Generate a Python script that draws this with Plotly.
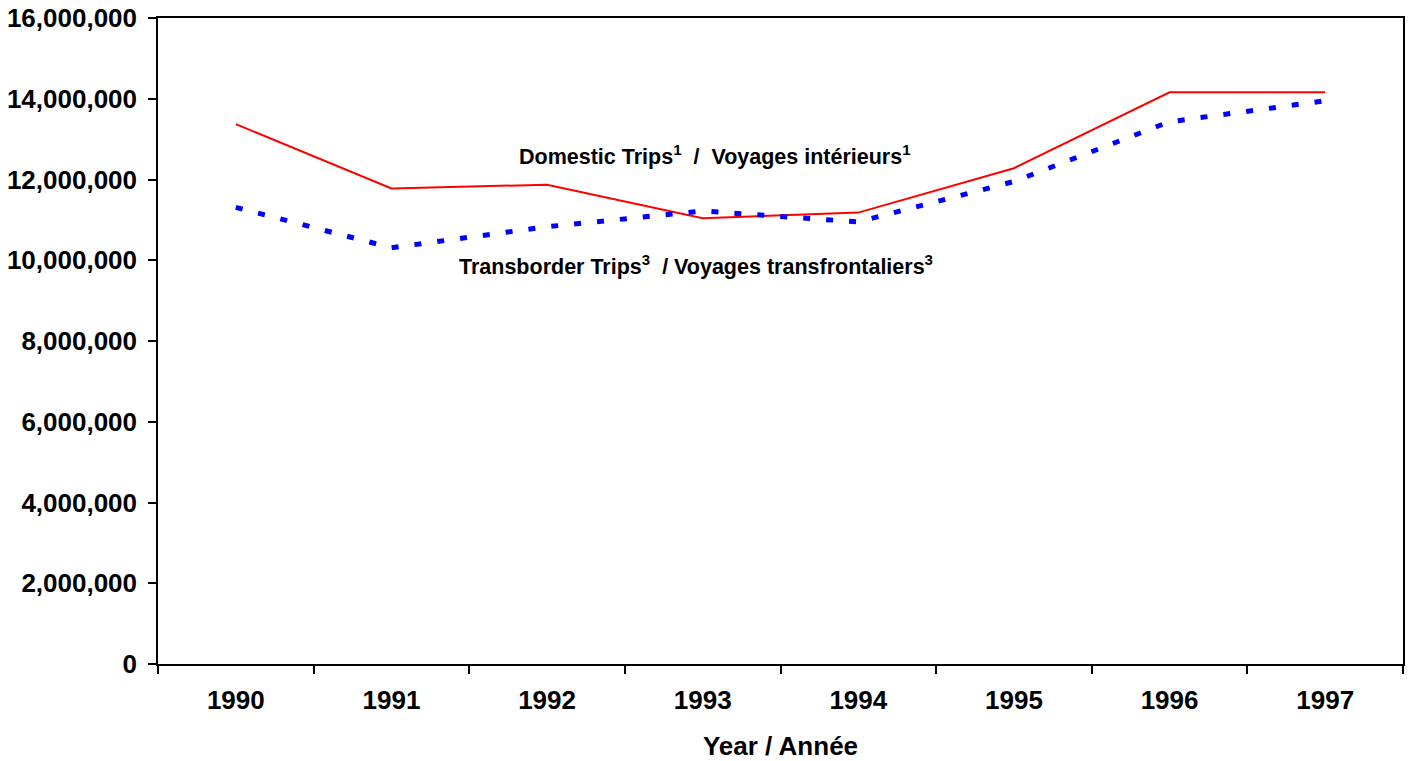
import plotly.graph_objects as go

years = ["1990", "1991", "1992", "1993", "1994", "1995", "1996", "1997"]
domestic = [13370000, 11780000, 11870000, 11040000, 11180000, 12280000, 14160000, 14160000]
transborder = [11310000, 10310000, 10830000, 11220000, 10950000, 11950000, 13430000, 13950000]

FONT = "Arial, Liberation Sans, sans-serif"

fig = go.Figure()
fig.add_trace(go.Scatter(x=years, y=domestic, mode="lines",
                         line=dict(color="#ff0000", width=2), name="Domestic"))
fig.add_trace(go.Scatter(x=years, y=transborder, mode="lines",
                         line=dict(color="#0000ff", width=5, dash="7px,16px"), name="Transborder"))

fig.update_layout(
    width=1409, height=761,
    margin=dict(l=158, r=6, t=18, b=97),
    paper_bgcolor="white", plot_bgcolor="white",
    showlegend=False,
    font=dict(family=FONT, color="black"),
)
fig.update_xaxes(
    type="category", range=[-0.5, 7.5], automargin=False,
    tickson="boundaries", ticks="outside", ticklen=8, tickwidth=1.5, tickcolor="black",
    showline=True, linecolor="black", linewidth=1.5, mirror=True,
    showgrid=False, zeroline=False, ticklabelstandoff=12,
    tickfont=dict(family=FONT, size=26, color="black", weight="bold"),
    title=dict(text="<b>Year / Année</b>", font=dict(family=FONT, size=26, color="black"), standoff=24),
)
fig.update_yaxes(
    range=[0, 16000000], dtick=2000000, tickformat=",", automargin=False,
    ticks="outside", ticklen=8, tickwidth=1.5, tickcolor="black",
    showline=True, linecolor="black", linewidth=1.5, mirror=True,
    showgrid=False, zeroline=False, ticklabelstandoff=6, ticklabeloverflow="allow",
    tickfont=dict(family=FONT, size=26, color="black", weight="bold"),
)

fig.add_annotation(xref="paper", yref="paper", x=0.447, y=0.812,
                   text="<b>Domestic Trips<sup>1</sup>  /  Voyages intérieurs<sup>1</sup></b>",
                   showarrow=False, font=dict(family=FONT, size=21.5, color="black"))
fig.add_annotation(xref="paper", yref="paper", x=0.432, y=0.618,
                   text="<b>Transborder Trips<sup>3</sup>  / Voyages transfrontaliers<sup>3</sup></b>",
                   showarrow=False, font=dict(family=FONT, size=21.5, color="black"))

fig.write_html("out.html", config={"displayModeBar": False},
               post_script="document.body.style.margin='0';document.body.style.overflow='hidden';")
